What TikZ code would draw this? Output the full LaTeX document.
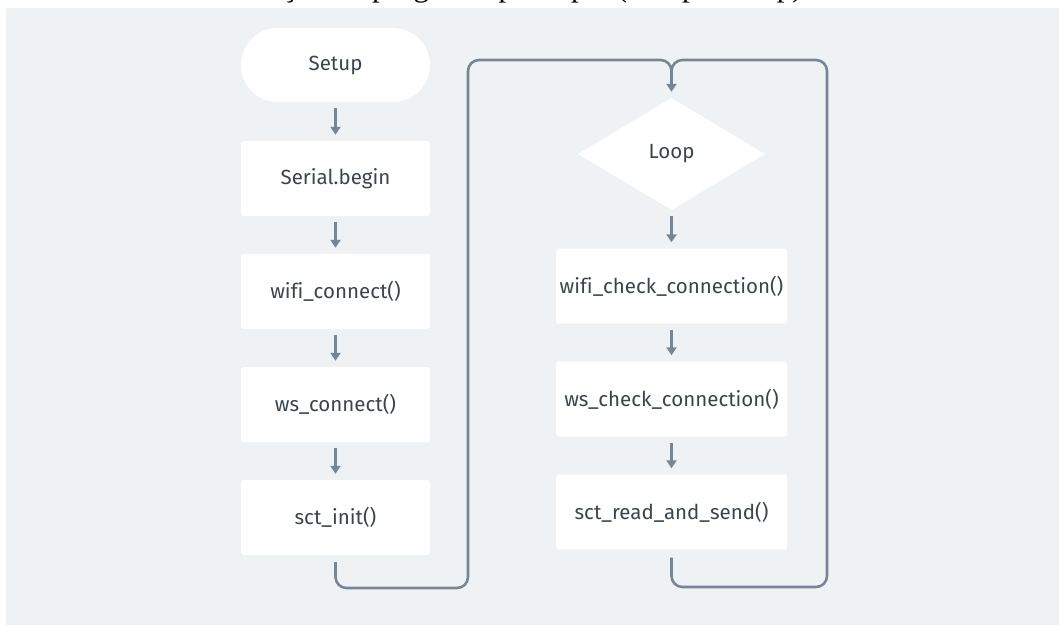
\documentclass[tikz,border=0pt]{standalone}
\usepackage{fontspec}
\setmainfont{Fira Sans}[Ligatures=NoCommon]
\newfontfamily\titlefont{Liberation Serif}
\usetikzlibrary{arrows.meta,shapes.geometric}
\definecolor{panelbg}{RGB}{239,242,245}
\definecolor{linec}{RGB}{118,134,149}
\definecolor{textc}{RGB}{58,68,80}
\tikzset{
  box/.style={rectangle, fill=white, rounded corners=3pt, minimum width=189pt, minimum height=75pt, inner sep=0pt, text=textc, font=\fontsize{20.5}{24}\selectfont},
  rbox/.style={box, minimum width=231pt},
  term/.style={box, rounded corners=37pt, minimum height=74pt},
  dec/.style={diamond, fill=white, minimum width=187pt, minimum height=112pt, inner sep=0pt, text=textc, font=\fontsize{20.5}{24}\selectfont},
  flow/.style={draw=linec, line width=2.6pt, -{Triangle[width=10pt,length=8pt]}, shorten <=6pt, shorten >=6pt},
  back/.style={draw=linec, line width=2.6pt, rounded corners=11pt},
}
\begin{document}
\begin{tikzpicture}[x=1pt,y=-1pt]
\useasboundingbox (0,0) rectangle (1059,625);
\fill[panelbg] (6,8) rectangle (1059,625);
\begin{scope}
\clip (0,0) rectangle (1059,625);
\node[anchor=base west, inner sep=0pt, font=\titlefont\fontsize{31}{36}\selectfont] (title) at (205,-4) {Execução do programa principal (Setup e Loop)};
\end{scope}
% left column
\node[term] (setup) at (335.5,65) {Setup};
\node[box] (serial) at (335.5,178.5) {Serial.begin};
\node[box] (wifi) at (335.5,291.5) {wifi\_connect()};
\node[box] (ws) at (335.5,404.5) {ws\_connect()};
\node[box] (sct) at (335.5,517.5) {sct\_init()};
% right column
\node[dec] (loop) at (671.5,154) {Loop};
\node[rbox] (wcc) at (671.5,286) {wifi\_check\_connection()};
\node[rbox] (wsc) at (671.5,399) {ws\_check\_connection()};
\node[rbox] (srs) at (671.5,512) {sct\_read\_and\_send()};
\draw[flow] (setup) -- (serial);
\draw[flow] (serial) -- (wifi);
\draw[flow] (wifi) -- (ws);
\draw[flow] (ws) -- (sct);
\draw[flow] (loop) -- (wcc);
\draw[flow] (wcc) -- (wsc);
\draw[flow] (wsc) -- (srs);
\coordinate (jn) at (671.5,60);
\coordinate (lb) at (335.5,588);
\coordinate (lr) at (468,588);
\coordinate (lt) at (468,60);
\coordinate (rb) at (671.5,587);
\coordinate (rr) at (827,587);
\coordinate (rt) at (827,60);
\draw[back, shorten <=7pt] (sct.south) -- (lb) -- (lr) -- (lt) -- (jn) -- ([yshift=20pt]loop.north);
\draw[back, shorten <=8pt] (srs.south) -- (rb) -- (rr) -- (rt) -- (jn) -- ([yshift=20pt]loop.north);
\draw[flow, shorten <=0pt] ([yshift=22pt]loop.north) -- (loop.north);
\end{tikzpicture}
\end{document}
